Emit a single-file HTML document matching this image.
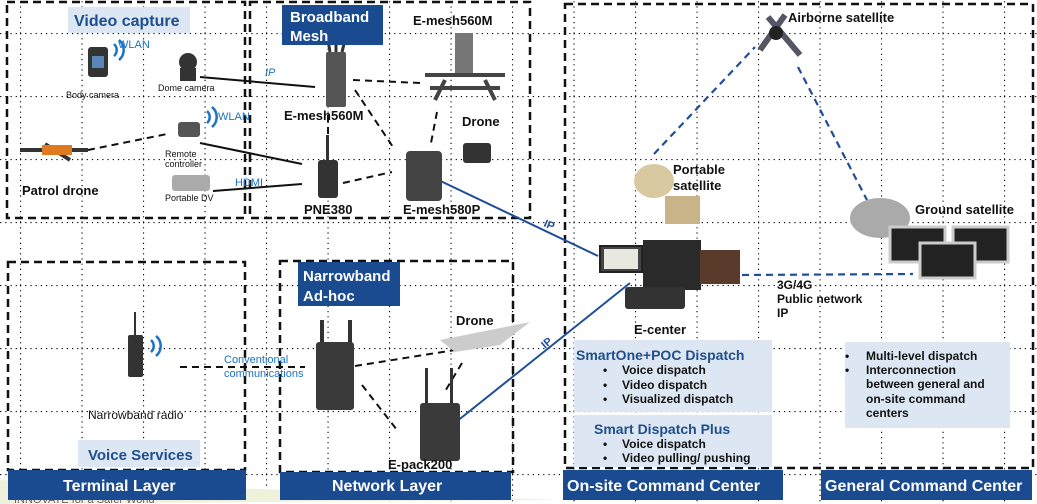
<!DOCTYPE html>
<html><head><meta charset="utf-8"><style>
body{margin:0;background:#fff}
svg{display:block;font-family:"Liberation Sans",sans-serif}
</style></head><body>
<svg width="1037" height="504" viewBox="0 0 1037 504" xmlns="http://www.w3.org/2000/svg">
<defs>
<pattern id="g" x="20" y="33" width="61.5" height="63" patternUnits="userSpaceOnUse">
<line x1="0" y1="0.5" x2="61.5" y2="0.5" stroke="#000" stroke-width="1.2" stroke-dasharray="1.2,4"/>
<line x1="0.5" y1="0" x2="0.5" y2="63" stroke="#000" stroke-width="1.2" stroke-dasharray="1.2,4"/>
</pattern>
</defs>
<rect width="1037" height="504" fill="#fff"/>
<rect width="1037" height="504" fill="url(#g)"/>
<path d="M0 480 Q300 490 560 500 L0 504Z" fill="#eef2dc"/>
<text x="14" y="503" font-size="11" fill="#667">INNOVATE for a Safer World</text>

<g fill="none" stroke="#111" stroke-width="2.5" stroke-dasharray="8,5">
<rect x="7" y="2" width="238" height="216"/>
<rect x="250" y="2" width="280" height="216"/>
<rect x="8" y="262" width="237" height="208"/>
<rect x="280" y="261" width="233" height="211"/>
<rect x="565" y="4" width="468" height="464"/>
</g>

<g stroke="#111" stroke-width="2" fill="none">
<line x1="200" y1="77" x2="315" y2="87"/>
<line x1="200" y1="143" x2="302" y2="164"/>
<line x1="213" y1="191" x2="302" y2="184"/>
</g>
<g stroke="#111" stroke-width="2" fill="none" stroke-dasharray="7,5">
<line x1="88" y1="150" x2="167" y2="134"/>
<line x1="353" y1="80" x2="420" y2="83"/>
<line x1="355" y1="90" x2="395" y2="150"/>
<line x1="328" y1="115" x2="328" y2="135"/>
<line x1="343" y1="183" x2="392" y2="172"/>
<line x1="437" y1="112" x2="431" y2="143"/>
<line x1="180" y1="367" x2="305" y2="367"/>
<line x1="355" y1="366" x2="455" y2="350"/>
<line x1="362" y1="385" x2="397" y2="430"/>
<line x1="462" y1="363" x2="444" y2="393"/>
</g>
<g stroke="#1f4e99" stroke-width="2" fill="none">
<line x1="430" y1="176" x2="598" y2="256"/>
<line x1="441" y1="434" x2="630" y2="283"/>
</g>
<g stroke="#1f4e99" stroke-width="2.2" fill="none" stroke-dasharray="7,5">
<line x1="654" y1="154" x2="755" y2="47"/>
<line x1="798" y1="67" x2="867" y2="200"/>
<line x1="742" y1="275" x2="913" y2="274"/>
</g>

<g fill="#333">
<rect x="88" y="47" width="20" height="30" rx="3"/>
<rect x="92" y="56" width="12" height="12" fill="#5b86b8"/>
<circle cx="188" cy="62" r="9"/><rect x="180" y="68" width="16" height="13"/>
<rect x="326" y="52" width="20" height="55" rx="2" fill="#555"/>
<line x1="330" y1="52" x2="328" y2="40" stroke="#333" stroke-width="3"/>
<line x1="336" y1="52" x2="336" y2="38" stroke="#333" stroke-width="3"/>
<line x1="342" y1="52" x2="345" y2="40" stroke="#333" stroke-width="3"/>
<rect x="455" y="33" width="18" height="40" fill="#777"/>
<path d="M425 75 L505 75 M430 88 L500 88 M445 80 L435 100 M485 80 L495 100" stroke="#444" stroke-width="4"/>
<rect x="463" y="143" width="28" height="20" rx="3"/>
<rect x="318" y="160" width="20" height="38" rx="3"/>
<rect x="326" y="135" width="3" height="25"/>
<rect x="406" y="151" width="36" height="50" rx="4" fill="#444"/>
<rect x="178" y="122" width="22" height="15" rx="3" fill="#555"/>
<rect x="172" y="175" width="38" height="16" rx="3" fill="#aaa"/>
<path d="M20 150 L88 150 M45 144 L70 160" stroke="#333" stroke-width="4"/>
<rect x="42" y="145" width="30" height="10" fill="#e07a20"/>
<rect x="128" y="335" width="15" height="42" rx="2"/>
<rect x="134" y="312" width="2" height="24"/>
<rect x="320" y="320" width="4" height="30"/><rect x="348" y="320" width="4" height="30"/>
<rect x="316" y="342" width="38" height="68" rx="3" fill="#3a3a3a"/>
<rect x="425" y="368" width="3" height="35"/><rect x="450" y="368" width="3" height="35"/>
<rect x="420" y="403" width="40" height="58" rx="3" fill="#3a3a3a"/>
<path d="M440 340 L530 322 L500 345 L455 352Z" fill="#ccc"/>
<rect x="600" y="246" width="42" height="26" fill="#444" stroke="#222" stroke-width="2"/>
<rect x="604" y="249" width="34" height="20" fill="#e8e8e0"/>
<rect x="643" y="240" width="58" height="50" fill="#2a2a2a"/>
<rect x="700" y="250" width="40" height="34" fill="#5a3a2a"/>
<rect x="625" y="287" width="60" height="22" rx="3" fill="#333"/>
<ellipse cx="654" cy="181" rx="20" ry="17" fill="#d9c9a0"/>
<rect x="665" y="196" width="35" height="28" fill="#c9b48a"/>
<path d="M768 17 L800 55 M785 15 L760 50" stroke="#556" stroke-width="6"/>
<circle cx="776" cy="33" r="7" fill="#222"/>
<ellipse cx="880" cy="218" rx="30" ry="20" fill="#aaa"/>
<rect x="890" y="227" width="55" height="35" fill="#222" stroke="#ccc" stroke-width="3"/>
<rect x="953" y="227" width="55" height="35" fill="#222" stroke="#ccc" stroke-width="3"/>
<rect x="920" y="243" width="55" height="35" fill="#222" stroke="#ccc" stroke-width="3"/>
</g>
<g fill="none" stroke="#1a73c4" stroke-width="2.5">
<path d="M114 44 a8 8 0 0 1 0 12"/><path d="M119 40 a13 13 0 0 1 0 20"/>
<path d="M207 111 a8 8 0 0 1 0 12"/><path d="M212 107 a13 13 0 0 1 0 20"/>
<path d="M151 340 a8 8 0 0 1 0 12"/><path d="M156 336 a13 13 0 0 1 0 20"/>
</g>

<rect x="68" y="7" width="122" height="26" fill="#dde7f3"/>
<text x="74" y="26" font-size="16" font-weight="bold" fill="#1f4e8c">Video capture</text>
<rect x="282" y="5" width="101" height="40" fill="#1a4a8f"/>
<text x="290" y="22" font-size="15" font-weight="bold" fill="#fff">Broadband</text>
<text x="290" y="41" font-size="15" font-weight="bold" fill="#fff">Mesh</text>
<rect x="298" y="262" width="102" height="44" fill="#1a4a8f"/>
<text x="303" y="281" font-size="15" font-weight="bold" fill="#fff">Narrowband</text>
<text x="303" y="301" font-size="15" font-weight="bold" fill="#fff">Ad-hoc</text>
<rect x="78" y="440" width="122" height="27" fill="#dde7f3"/>
<text x="88" y="460" font-size="15" font-weight="bold" fill="#1f4e8c">Voice Services</text>

<g fill="#1a4a8f">
<rect x="8" y="470" width="238" height="30"/>
<rect x="280" y="472" width="231" height="28"/>
<rect x="563" y="470" width="220" height="30"/>
<rect x="821" y="470" width="211" height="30"/>
</g>
<g font-size="16" font-weight="bold" fill="#fff">
<text x="63" y="491">Terminal Layer</text>
<text x="332" y="491">Network Layer</text>
<text x="567" y="491">On-site Command Center</text>
<text x="825" y="491">General Command Center</text>
</g>

<rect x="574" y="340" width="198" height="72" fill="#dde7f3"/>
<rect x="574" y="415" width="198" height="52" fill="#dde7f3"/>
<rect x="845" y="342" width="165" height="86" fill="#dde7f3"/>
<g font-size="14" font-weight="bold" fill="#1f4e8c">
<text x="576" y="360">SmartOne+POC Dispatch</text>
<text x="594" y="434">Smart Dispatch Plus</text>
</g>
<g font-size="12" font-weight="bold" fill="#111">
<text x="603" y="374">•</text><text x="622" y="374">Voice dispatch</text>
<text x="603" y="389">•</text><text x="622" y="389">Video dispatch</text>
<text x="603" y="403">•</text><text x="622" y="403">Visualized dispatch</text>
<text x="603" y="448">•</text><text x="622" y="448">Voice dispatch</text>
<text x="603" y="462">•</text><text x="622" y="462">Video pulling/ pushing</text>
<text x="845" y="360">•</text><text x="866" y="360">Multi-level dispatch</text>
<text x="845" y="374">•</text><text x="866" y="374">Interconnection</text>
<text x="866" y="388">between general and</text>
<text x="866" y="403">on-site command</text>
<text x="866" y="417">centers</text>
</g>

<g font-size="13" font-weight="bold" fill="#111">
<text x="22" y="195">Patrol drone</text>
<text x="284" y="120">E-mesh560M</text>
<text x="413" y="25">E-mesh560M</text>
<text x="462" y="126">Drone</text>
<text x="304" y="214">PNE380</text>
<text x="403" y="214">E-mesh580P</text>
<text x="456" y="325">Drone</text>
<text x="388" y="469">E-pack200</text>
<text x="788" y="22">Airborne satellite</text>
<text x="673" y="174">Portable</text>
<text x="673" y="190">satellite</text>
<text x="915" y="214">Ground satellite</text>
<text x="634" y="334">E-center</text>
</g>
<g font-size="12" font-weight="bold" fill="#111">
<text x="777" y="289">3G/4G</text>
<text x="777" y="303">Public network</text>
<text x="777" y="317">IP</text>
</g>
<g font-size="9" fill="#111">
<text x="66" y="98">Body camera</text>
<text x="158" y="91">Dome camera</text>
<text x="165" y="157">Remote</text>
<text x="165" y="167">controller</text>
<text x="165" y="201">Portable DV</text>
</g>
<text x="88" y="419" font-size="12" fill="#111">Narrowband radio</text>
<g font-size="11" fill="#1a73c4">
<text x="118" y="48">WLAN</text>
<text x="218" y="120">WLAN</text>
<text x="265" y="76" font-style="italic">IP</text>
<text x="235" y="186">HDMI</text>
<text x="224" y="363">Conventional</text>
<text x="224" y="377">communications</text>
</g>
<text x="543" y="226" font-size="11" font-weight="bold" fill="#1f4e99" transform="rotate(25 543 226)">IP</text>
<text x="545" y="349" font-size="11" font-weight="bold" fill="#1f4e99" transform="rotate(-40 545 349)">IP</text>
</svg>
</body></html>
